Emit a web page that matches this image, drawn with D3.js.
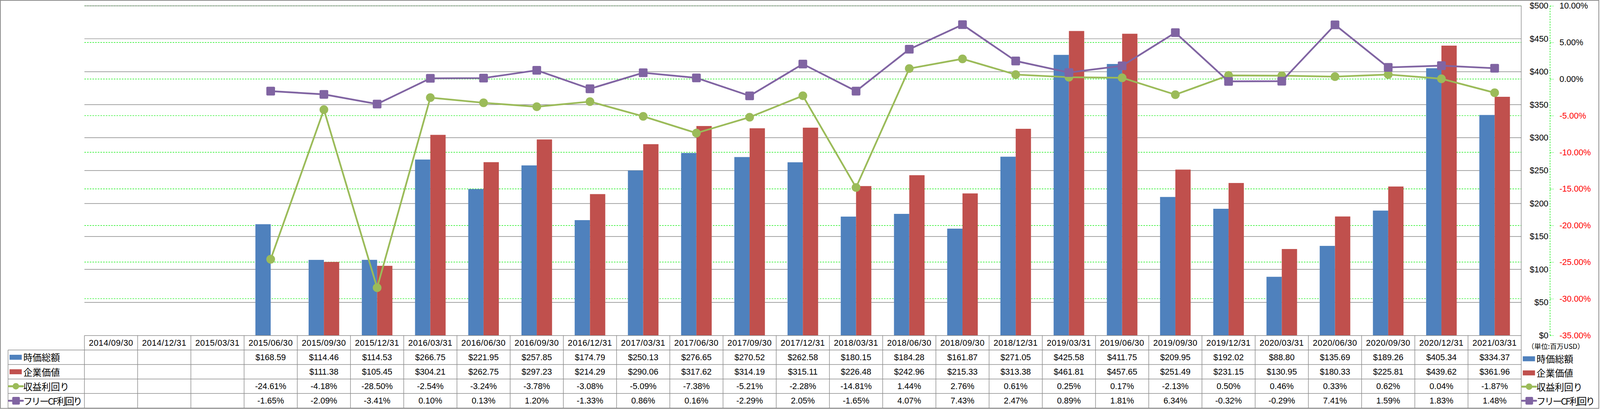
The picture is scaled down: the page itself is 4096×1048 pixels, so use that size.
<!DOCTYPE html>
<html><head><meta charset="utf-8">
<script src="https://cdn.jsdelivr.net/npm/d3@7"></script>
<style>html,body{margin:0;padding:0;background:#fff;overflow:hidden}</style>
</head><body>
<svg id="c" width="4096" height="1048"></svg>
<script>
// ---------- DATA ----------
const categories = ["2014/09/30","2014/12/31","2015/03/31","2015/06/30","2015/09/30","2015/12/31",
  "2016/03/31","2016/06/30","2016/09/30","2016/12/31","2017/03/31","2017/06/30","2017/09/30",
  "2017/12/31","2018/03/31","2018/06/30","2018/09/30","2018/12/31","2019/03/31","2019/06/30",
  "2019/09/30","2019/12/31","2020/03/31","2020/06/30","2020/09/30","2020/12/31","2021/03/31"];
const marketCap = [null,null,null,168.59,114.46,114.53,266.75,221.95,257.85,174.79,250.13,276.65,270.52,
  262.58,180.15,184.28,161.87,271.05,425.58,411.75,209.95,192.02,88.80,135.69,189.26,405.34,334.37];
const enterpriseValue = [null,null,null,null,111.38,105.45,304.21,262.75,297.23,214.29,290.06,317.62,314.19,
  315.11,226.48,242.96,215.33,313.38,461.81,457.65,251.49,231.15,130.95,180.33,225.81,439.62,361.96];
const earningsYield = [null,null,null,-24.61,-4.18,-28.50,-2.54,-3.24,-3.78,-3.08,-5.09,-7.38,-5.21,
  -2.28,-14.81,1.44,2.76,0.61,0.25,0.17,-2.13,0.50,0.46,0.33,0.62,0.04,-1.87];
const fcfYield = [null,null,null,-1.65,-2.09,-3.41,0.10,0.13,1.20,-1.33,0.86,0.16,-2.29,
  2.05,-1.65,4.07,7.43,2.47,0.89,1.81,6.34,-0.32,-0.29,7.41,1.59,1.83,1.48];
const seriesNames = ["時価総額","企業価値","収益利回り","フリーCF利回り"];
const valueDomain = [0, 500];
const percentDomain = [-35, 10];
const unitLabel = "（単位:百万USD）";

// ---------- STYLE ----------
const NUM = "'Liberation Sans', Arial, sans-serif";
const JP = "'Noto Sans CJK JP', sans-serif";
const BLUE = "#4F81BD", RED = "#C0504D", GREEN = "#9BBB59", PURPLE = "#8064A2";
const GRID = "#868686", DASH = "#11EE11", TBL = "#8C8C8C";

const svg = d3.select("#c");
const g = svg.append("g").attr("transform", "scale(0.978)");
g.append("rect").attr("width", 4186).attr("height", 1071).attr("fill", "#fff");

const L = 221, R = 3982, T = 15.3, B = 878.5;
const x = d3.scaleBand().domain(categories).range([L, R]);
const inner = d3.scaleBand().domain([0, 1]).range([0, x.bandwidth()]).paddingInner(0).paddingOuter(0.74);
const y = d3.scaleLinear().domain(valueDomain).range([B, T]);
const y2 = d3.scaleLinear().domain(percentDomain).range([B, T]);
const cx = c => x(c) + x.bandwidth() / 2;

// gridlines
const grid = g.append("g");
grid.selectAll("line.g2").data(y2.ticks(9).filter(d => d > percentDomain[0])).join("line")
  .attr("x1", L).attr("x2", R).attr("y1", d => y2(d)).attr("y2", d => y2(d))
  .attr("stroke", DASH).attr("stroke-width", 1.5).attr("stroke-dasharray", "4,3");
grid.selectAll("line.g1").data(y.ticks(10).filter(d => d > 0)).join("line")
  .attr("x1", L).attr("x2", R).attr("y1", d => y(d)).attr("y2", d => y(d))
  .attr("stroke", GRID).attr("stroke-width", 1.5);

// bars
const barSeries = [{values: marketCap, color: BLUE}, {values: enterpriseValue, color: RED}];
barSeries.forEach((s, i) => {
  g.append("g").selectAll("rect")
    .data(categories.map((c, j) => ({c, v: s.values[j]})).filter(d => d.v != null))
    .join("rect")
    .attr("x", d => x(d.c) + inner(i)).attr("width", inner.bandwidth())
    .attr("y", d => y(d.v)).attr("height", d => y(0) - y(d.v))
    .attr("fill", s.color);
});

// lines
const lineSeries = [{values: earningsYield, color: GREEN, marker: "circle"},
                    {values: fcfYield, color: PURPLE, marker: "square"}];
const line = d3.line().defined(d => d.v != null).x(d => cx(d.c)).y(d => y2(d.v));
lineSeries.forEach(s => {
  const pts = categories.map((c, j) => ({c, v: s.values[j]}));
  const lg = g.append("g");
  lg.append("path").datum(pts).attr("d", line).attr("fill", "none")
    .attr("stroke", s.color).attr("stroke-width", 4.5).attr("stroke-linejoin", "round");
  const valid = pts.filter(d => d.v != null);
  if (s.marker === "circle") {
    lg.selectAll("circle").data(valid).join("circle")
      .attr("cx", d => cx(d.c)).attr("cy", d => y2(d.v)).attr("r", 11.4).attr("fill", s.color);
  } else {
    lg.selectAll("rect").data(valid).join("rect")
      .attr("x", d => cx(d.c) - 11.4).attr("y", d => y2(d.v) - 11.4)
      .attr("width", 22.8).attr("height", 22.8).attr("rx", 3).attr("fill", s.color);
  }
});

// plot right border
g.append("line").attr("x1", R).attr("x2", R).attr("y1", T).attr("y2", 1069)
  .attr("stroke", TBL).attr("stroke-width", 1.5);

// axes (right side)
const AX = 4057;
const ax1 = g.append("g").attr("transform", `translate(${AX},0)`)
  .call(d3.axisLeft(y).ticks(10).tickSize(0).tickPadding(4).tickFormat(d => "$" + d));
ax1.select(".domain").remove();
ax1.selectAll("text").attr("font-size", 22).attr("font-family", NUM).attr("fill", "#000");

const pf = d => (+d).toFixed(2) + "%";
const ax2 = g.append("g").attr("transform", `translate(${AX},0)`)
  .call(d3.axisRight(y2).ticks(9).tickSize(9).tickSizeOuter(0).tickPadding(16).tickFormat(pf));
ax2.select(".domain").attr("stroke", DASH).attr("stroke-width", 1.5).attr("stroke-dasharray", "4,3");
ax2.selectAll(".tick line").attr("stroke", DASH).attr("stroke-width", 1.5).attr("stroke-dasharray", "4,3");
ax2.selectAll("text").attr("font-size", 22).attr("font-family", NUM)
  .attr("fill", d => d < 0 ? "#FF0000" : "#000");

// ---------- DATA TABLE ----------
const rowH = 38, top0 = 879;
const rowTop = i => top0 + rowH * i;   // 0 = header
const tbl = g.append("g");
tbl.append("line").attr("x1", L).attr("x2", R).attr("y1", top0).attr("y2", top0)
  .attr("stroke", TBL).attr("stroke-width", 1.5);
for (let i = 1; i <= 5; i++) {
  tbl.append("line").attr("x1", 21).attr("x2", R).attr("y1", rowTop(i)).attr("y2", rowTop(i))
    .attr("stroke", TBL).attr("stroke-width", 1.5);
}
tbl.append("line").attr("x1", 21).attr("x2", 21).attr("y1", rowTop(1)).attr("y2", rowTop(5))
  .attr("stroke", TBL).attr("stroke-width", 1.5);
tbl.selectAll("line.v").data(categories).join("line")
  .attr("x1", d => x(d)).attr("x2", d => x(d)).attr("y1", top0).attr("y2", rowTop(5))
  .attr("stroke", TBL).attr("stroke-width", 1.5);

tbl.selectAll("text.h").data(categories).join("text")
  .attr("x", d => cx(d)).attr("y", rowTop(0) + rowH / 2).attr("dy", "0.35em")
  .attr("text-anchor", "middle").attr("font-size", 22).attr("font-family", NUM)
  .attr("letter-spacing", 0.6).text(d => d);

const money = v => v == null ? "" : "$" + v.toFixed(2);
const pct = v => v == null ? "" : pf(v);
const rows = [{vals: marketCap, f: money}, {vals: enterpriseValue, f: money},
              {vals: earningsYield, f: pct}, {vals: fcfYield, f: pct}];
rows.forEach((r, i) => {
  tbl.append("g").selectAll("text").data(categories.map((c, j) => ({c, v: r.vals[j]})))
    .join("text")
    .attr("x", d => cx(d.c)).attr("y", rowTop(i + 1) + rowH / 2).attr("dy", "0.35em")
    .attr("text-anchor", "middle").attr("font-size", 22).attr("font-family", NUM)
    .text(d => r.f(d.v));
});

// legend keys
function drawKey(parent, x0, cyy, idx) {
  if (idx < 2) {
    parent.append("rect").attr("x", x0).attr("y", cyy - 6.5).attr("width", 32).attr("height", 13)
      .attr("fill", idx === 0 ? BLUE : RED);
  } else {
    const col = idx === 2 ? GREEN : PURPLE;
    parent.append("line").attr("x1", x0 - 2).attr("x2", x0 + 35).attr("y1", cyy).attr("y2", cyy)
      .attr("stroke", col).attr("stroke-width", 5).attr("stroke-linecap", "round");
    if (idx === 2) parent.append("circle").attr("cx", x0 + 16.5).attr("cy", cyy).attr("r", 8.5).attr("fill", col);
    else parent.append("rect").attr("x", x0 + 7).attr("y", cyy - 10).attr("width", 20).attr("height", 20)
      .attr("rx", 3).attr("fill", col);
  }
}
// narrow over-wide labels with negative letter-spacing (and a smaller size if still needed)
function fitText(sel, maxW) {
  sel.each(function () {
    const t = d3.select(this);
    let w = this.getComputedTextLength();
    if (w > maxW) {
      const n = this.textContent.length;
      const ls = Math.max(-3, (maxW - w) / n);
      t.attr("letter-spacing", ls);
      w = this.getComputedTextLength();
      if (w > maxW) {
        const fs = parseFloat(t.attr("font-size"));
        t.attr("font-size", fs * maxW / w);
      }
    }
  });
}
const leg = g.append("g");
seriesNames.forEach((n, i) => {
  const cyy = rowTop(i + 1) + rowH / 2;
  drawKey(leg, 25, cyy, i);
  leg.append("text").attr("x", 61).attr("y", cyy).attr("dominant-baseline", "central")
    .attr("font-size", 24).attr("font-family", JP).text(n).call(fitText, 152);
});
const rCy = [940, 977, 1013, 1050];
seriesNames.forEach((n, i) => {
  drawKey(leg, 3986, rCy[i], i);
  leg.append("text").attr("x", 4022).attr("y", rCy[i]).attr("dominant-baseline", "central")
    .attr("font-size", 24).attr("font-family", JP).text(n).call(fitText, 150);
});
leg.append("text").attr("x", 3998).attr("y", 906).attr("dominant-baseline", "central")
  .attr("font-size", 18).attr("font-family", JP).text(unitLabel).call(fitText, 152);

// outer border
g.append("rect").attr("x", 1).attr("y", 1).attr("width", 4184).attr("height", 1069)
  .attr("fill", "none").attr("stroke", TBL).attr("stroke-width", 2);
</script>
</body></html>
